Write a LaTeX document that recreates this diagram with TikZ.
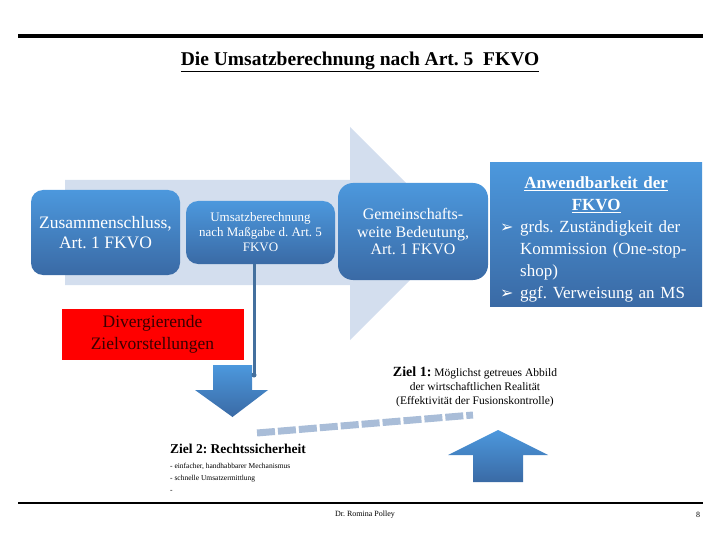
\documentclass[tikz,border=0pt]{standalone}
\usepackage{fontspec}
\setmainfont{Liberation Serif}
\newfontfamily\symfont{DejaVu Sans}
\usetikzlibrary{positioning}
\frenchspacing

\definecolor{pfeilgrau}{HTML}{D3DEEE}
\definecolor{blauhell}{HTML}{4C98DD}
\definecolor{blaudunkel}{HTML}{3A6AA5}
\definecolor{linienblau}{HTML}{44709E}
\definecolor{bandblau}{HTML}{A9BDD8}
\definecolor{dunkelrot}{HTML}{3A0000}

\tikzset{
  stufe/.style={rounded corners=12pt, top color=blauhell, bottom color=blaudunkel,
    text=white, align=center, inner sep=0pt},
  blaupfeil/.style={top color=blauhell, bottom color=blaudunkel},
  verbindung/.style={draw=linienblau, line width=3pt},
  band/.style={draw=bandblau, line width=7pt, dash pattern=on 18pt off 3pt}
}

\begin{document}
\begin{tikzpicture}[x=1pt,y=-1pt]
  \useasboundingbox (0,0) rectangle (720,540);

  % Kopf
  \draw[line width=4pt] (18,36) -- (703,36);
  \node[font=\fontsize{19.5}{21}\selectfont\bfseries] (titel) at (360,62)
    {\underline{Die Umsatzberechnung nach Art. 5~~FKVO}};

  % Hintergrundpfeil
  \fill[pfeilgrau] (65,180) -- (350,180) -- (350,127) -- (456.5,233.5)
    -- (350,340) -- (350,285) -- (65,285) -- cycle;

  % Stufen
  \node[stufe, minimum width=149, minimum height=85, font=\fontsize{17.5}{20}\selectfont]
    (zus) at (105.5,232.5) {Zusammenschluss,\\Art. 1 FKVO};
  \node[stufe, minimum width=149, minimum height=63, font=\fontsize{13}{15}\selectfont]
    (ums) at (260.5,232.5) {Umsatzberechnung\\nach Maßgabe d. Art. 5\\FKVO};
  \node[stufe, rounded corners=15pt, minimum width=150, minimum height=97,
    font=\fontsize{16}{17.5}\selectfont]
    (gem) at (413,231.5) {Gemeinschafts-\\weite Bedeutung,\\Art. 1 FKVO};

  % Anwendbarkeit
  \node[stufe, sharp corners, minimum width=212, minimum height=143] (anw) at (596,234.5) {};
  \node[text=white, font=\fontsize{17}{22}\selectfont, text width=192, align=left,
    anchor=north west, inner sep=0pt] (anwtext) at (500,176.5)
    {\makebox[192pt][c]{\bfseries\underline{Anwendbarkeit der}}\\
     \makebox[192pt][c]{\bfseries\underline{FKVO}}\\
     \makebox[20pt][l]{\symfont\fontsize{16}{22}\selectfont ➢}grds. Zuständigkeit der\\
     \hspace*{20pt}Kommission (One-stop-\\
     \hspace*{20pt}shop)\\
     \makebox[20pt][l]{\symfont\fontsize{16}{22}\selectfont ➢}ggf. Verweisung an MS};

  % Divergierende Ziele
  \node[fill=red, minimum width=182, minimum height=51, inner sep=0pt, align=center,
    text=dunkelrot, font=\fontsize{17.5}{22}\selectfont]
    (div) at (152.5,334.5) {Divergierende\\Zielvorstellungen};

  % Pfeil nach unten
  \coordinate (ende) at (254,375);
  \path[blaupfeil] (213,365) -- (252,365) -- (252,390) -- (268,390) -- (232.5,417)
    -- (195,390) -- (213,390) -- cycle;
  \draw[verbindung] (ums.south -| ende) -- (ende);
  \fill[linienblau] (ende) circle (2.5pt);

  % Ziel 1
  \node[align=center, font=\fontsize{11.5}{14}\selectfont] (ziel1) at (475,387)
    {{\fontsize{14}{14}\selectfont\bfseries Ziel 1:} Möglichst getreues Abbild\\
     der wirtschaftlichen Realität\\(Effektivität der Fusionskontrolle)};

  % Ziel 2
  \node[anchor=west, inner sep=0pt, font=\fontsize{13.5}{15}\selectfont\bfseries]
    (ziel2) at (170,449) {Ziel 2: Rechtssicherheit};
  \node[anchor=north west, inner sep=0pt, align=left, font=\fontsize{7.5}{12}\selectfont]
    (ziel2text) at (170,463)
    {- einfacher, handhabbarer Mechanismus\\- schnelle Umsatzermittlung\\-};

  % Spannungsband
  \coordinate (bandlinks) at (257,433);
  \coordinate (bandrechts) at (473,415);
  \draw[band] (bandlinks) -- (bandrechts);

  % Pfeil nach oben
  \path[blaupfeil] (473,482) -- (473,455) -- (448,455) -- (498,430) -- (548,455)
    -- (523,455) -- (523,482) -- cycle;

  % Fuss
  \draw[line width=1.5pt] (18,503) -- (703,503);
  \node[font=\fontsize{8}{10}\selectfont] (autor) at (365,515) {Dr. Romina Polley};
  \node[font=\fontsize{8}{10}\selectfont] (seite) at (698,515) {8};
\end{tikzpicture}
\end{document}
